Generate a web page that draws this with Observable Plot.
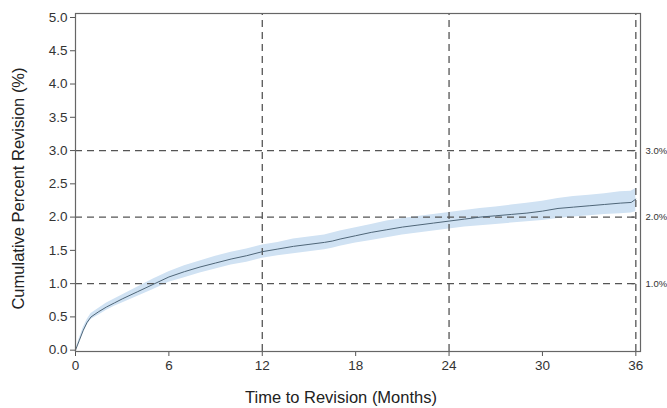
<!DOCTYPE html>
<html>
<head>
<meta charset="utf-8">
<script src="https://cdn.jsdelivr.net/npm/d3@7"></script>
<script src="https://cdn.jsdelivr.net/npm/@observablehq/plot@0.6"></script>
<style>
  html, body { margin: 0; padding: 0; background: #fff; }
  svg { display: block; }
</style>
</head>
<body>
<div id="chart"></div>
<script>
// Time in months and cumulative percent revision (estimate + 95% CI)
const months = [0, 0.25, 0.5, 0.75, 1, 1.5, 2, 2.5, 3, 4, 5, 6, 7, 8, 9, 10, 11, 12, 13, 14, 15, 16, 16.5, 17, 18, 19, 20, 21, 22, 23, 24, 25, 26, 27, 28, 29, 30, 31, 32, 33, 34, 35, 35.7, 36];
const estimate = [0, 0.15, 0.3, 0.42, 0.5, 0.58, 0.65, 0.71, 0.77, 0.88, 0.99, 1.1, 1.18, 1.25, 1.31, 1.37, 1.42, 1.48, 1.52, 1.56, 1.59, 1.62, 1.64, 1.67, 1.72, 1.77, 1.81, 1.85, 1.88, 1.91, 1.94, 1.97, 2.0, 2.02, 2.04, 2.06, 2.09, 2.13, 2.15, 2.17, 2.19, 2.21, 2.22, 2.27];
const lower = [0, 0.12, 0.26, 0.38, 0.46, 0.53, 0.6, 0.66, 0.71, 0.81, 0.91, 1.02, 1.09, 1.16, 1.22, 1.28, 1.32, 1.38, 1.42, 1.45, 1.48, 1.51, 1.53, 1.56, 1.61, 1.65, 1.69, 1.73, 1.76, 1.79, 1.82, 1.85, 1.87, 1.89, 1.91, 1.93, 1.95, 1.98, 2.0, 2.02, 2.04, 2.05, 2.06, 2.08];
const upper = [0, 0.18, 0.34, 0.46, 0.55, 0.63, 0.71, 0.77, 0.83, 0.95, 1.07, 1.18, 1.27, 1.34, 1.41, 1.47, 1.52, 1.58, 1.62, 1.67, 1.7, 1.73, 1.76, 1.79, 1.84, 1.89, 1.94, 1.98, 2.01, 2.04, 2.07, 2.1, 2.13, 2.15, 2.18, 2.21, 2.24, 2.28, 2.31, 2.33, 2.35, 2.38, 2.39, 2.43];

const xTicks = [0, 6, 12, 18, 24, 30, 36];
const yTicks = [0, 0.5, 1, 1.5, 2, 2.5, 3, 3.5, 4, 4.5, 5];
const refMonths = [12, 24, 36];
const refPercents = [1, 2, 3];
const refLabels = ["1.0%", "2.0%", "3.0%"];

const data = months.map((m, i) => ({m, est: estimate[i], lo: lower[i], hi: upper[i]}));
const refs = refPercents.map((p, i) => ({p, label: refLabels[i]}));

const font = "Liberation Sans, Arial, Helvetica, sans-serif";

const chart = Plot.plot({
  width: 667,
  height: 408,
  marginLeft: 75,
  marginRight: 27,
  marginTop: 13,
  marginBottom: 57,
  style: {fontFamily: font, fontSize: "13px", color: "#333", background: "#fff"},
  x: {type: "linear", domain: [0, 36.3], label: null},
  y: {type: "linear", domain: [-0.02, 5.06], label: null},
  marks: [
    Plot.areaY(data, {x: "m", y1: "lo", y2: "hi", fill: "#d0e2f3", curve: "linear"}),
    Plot.ruleY(refPercents, {x1: 0, x2: 36, stroke: "#555", strokeWidth: 1.3, strokeDasharray: "7,5"}),
    Plot.ruleX(refMonths, {y1: -0.02, y2: 5.06, stroke: "#555", strokeWidth: 1.3, strokeDasharray: "7,5"}),
    Plot.ruleY(refPercents, {x1: 35.75, x2: 36, stroke: "#555", strokeWidth: 1.2}),
    Plot.lineY(data, {x: "m", y: "est", stroke: "#4f6678", strokeWidth: 1, curve: "linear"}),
    Plot.text(refs, {x: 36.3, y: "p", text: "label", textAnchor: "start", dx: 5, fontSize: 9.5, fill: "#333"}),
    Plot.axisX(xTicks, {tickSize: 5, tickPadding: 4, fontSize: 13.5, stroke: "#555", fill: "#333", label: null}),
    Plot.axisY(yTicks, {tickSize: 5, tickPadding: 3, tickFormat: d3.format(".1f"), fontSize: 13.5, stroke: "#555", fill: "#333", label: null}),
    Plot.frame({stroke: "#666", strokeWidth: 1.2}),
    Plot.text(["Time to Revision (Months)"], {frameAnchor: "bottom", lineAnchor: "middle", textAnchor: "middle", dy: 46, dx: -17, fontSize: 16.5, fill: "#222"}),
    Plot.text(["Cumulative Percent Revision (%)"], {frameAnchor: "left", lineAnchor: "middle", textAnchor: "middle", dx: -57, dy: 6, rotate: -90, fontSize: 16.5, fill: "#222"})
  ]
});
document.getElementById("chart").appendChild(chart);
</script>
</body>
</html>
